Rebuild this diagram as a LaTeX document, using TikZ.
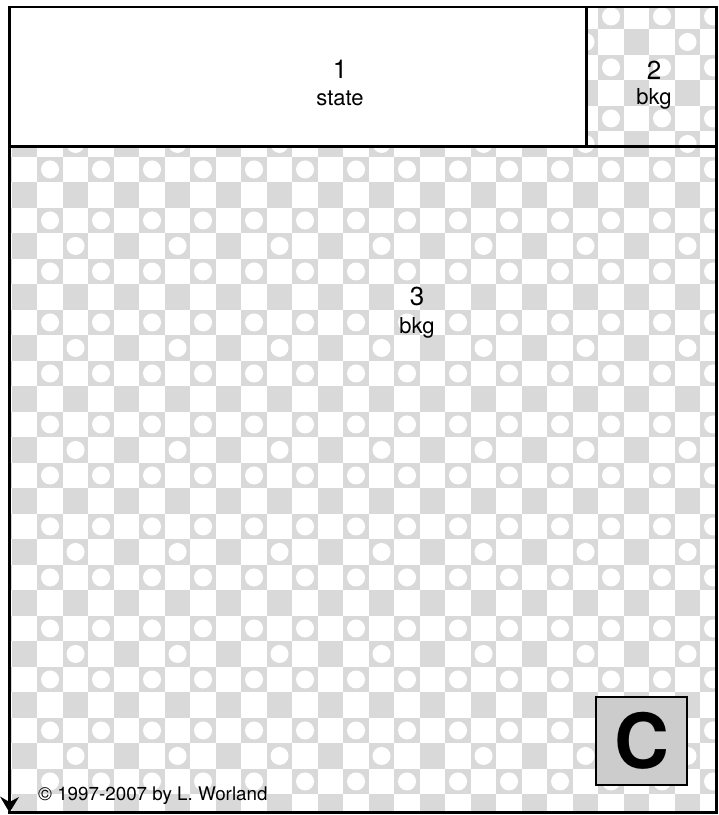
\documentclass[tikz,border=0pt]{standalone}
\usepackage{fontspec}
\setmainfont{TeX Gyre Heros}
\usetikzlibrary{positioning,arrows.meta}

\definecolor{tilegray}{gray}{0.85}
\definecolor{markgray}{gray}{0.8}
\newcommand{\numfont}{\fontsize{26}{28}\selectfont}
\newcommand{\labfont}{\fontsize{22}{26}\selectfont}

\begin{document}
\begin{tikzpicture}[
  x=1pt, y=-1pt,
  frame/.style={line width=2.6pt, line cap=rect},
  num/.style={anchor=base, inner sep=0pt, font=\numfont},
  lab/.style={anchor=base, inner sep=0pt, font=\labfont},
  cornerbox/.style={draw, line width=1.8pt, fill=markgray, minimum width=91pt,
               minimum height=88pt, inner sep=0pt,
               font=\fontsize{76}{76}\selectfont\bfseries}
]
  \useasboundingbox (0,0) rectangle (719,815);

  \coordinate (nw) at (9.5,7);
  \coordinate (ne) at (716.5,7);
  \coordinate (se) at (716.5,812.5);
  \coordinate (sw) at (9.5,812.5);
  \coordinate (split) at (586.7,146.5);
  \coordinate (notch) at (9.5,802);

  % tiled background
  \begin{scope}
    \clip (nw) rectangle (se);
    \foreach \r in {0,...,31}{
      \foreach \c in {-1,...,27}{
        \pgfmathtruncatemacro\sq{mod(\r+\c+2,2)}
        \pgfmathtruncatemacro\rr{mod(\r,4)}
        \pgfmathtruncatemacro\cc{mod(\c+4,4)}
        \ifnum\sq=1
          \fill[tilegray] ({11.8+25.5*\c},{3.7+25.5*\r}) rectangle ++(25.5,25.5);
          \ifnum\rr=3 \else
            \ifnum\rr=1
              \ifnum\cc=2
                \fill[white] ({24.55+25.5*\c},{16.45+25.5*\r}) circle (9);
              \fi
            \else
              \fill[white] ({24.55+25.5*\c},{16.45+25.5*\r}) circle (9);
            \fi
          \fi
        \fi
      }
    }
  \end{scope}
  \fill[white] (nw) rectangle (split);

  \draw[frame] (sw) -- (se) -- (ne) -- (nw) -- (notch);
  \fill (sw) -- ++(-9.5,-16) -- (notch) -- ++(9.5,-5) -- cycle;
  \draw[frame] (nw |- split) -- (split -| ne);
  \draw[frame] (split) -- (split |- nw);

  \node[num] (n1) at (340,78) {1};
  \node[lab] (l1) at (340,105) {state};
  \node[num] (n2) at (654,79) {2};
  \node[lab] (l2) at (654,104) {bkg};
  \node[num] (n3) at (417,305) {3};
  \node[lab] (l3) at (417,333) {bkg};

  \node[cornerbox] (corner) at (641.5,741) {C};
  \node[anchor=base west, inner sep=0pt, font=\fontsize{18.8}{20}\selectfont]
    (credit) at (38,800) {© 1997-2007 by L. Worland};
\end{tikzpicture}
\end{document}
